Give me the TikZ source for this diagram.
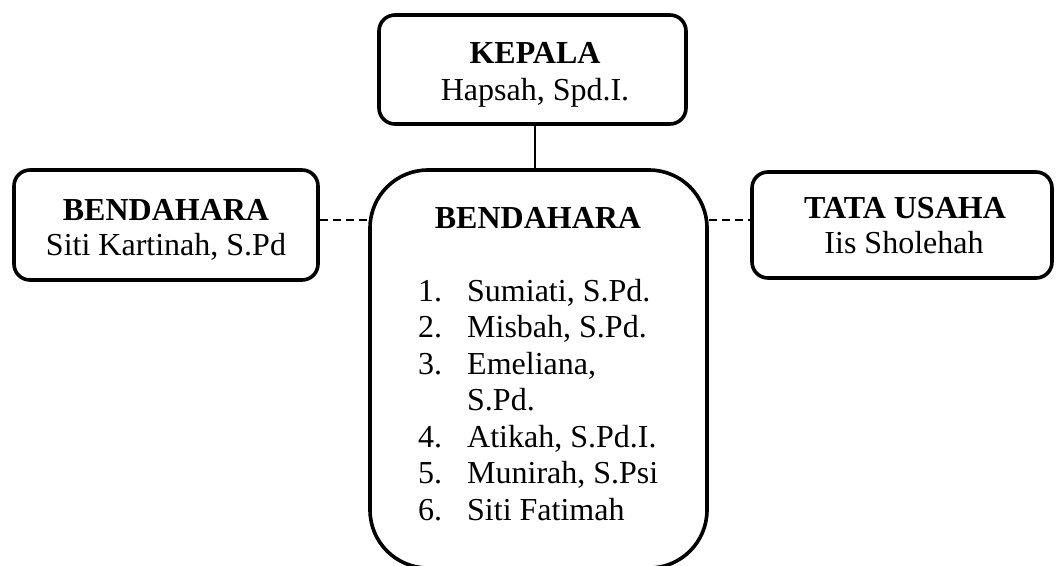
\documentclass[tikz,border=0pt]{standalone}
\usepackage{fontspec}
\setmainfont{Liberation Serif}
\begin{document}
\begin{tikzpicture}[x=1pt,y=-1pt,
  box/.style={draw,line width=3.6pt,rectangle,inner sep=0pt,rounded corners=16pt},
  bigbox/.style={draw,line width=3.6pt,rectangle,inner sep=0pt,rounded corners=58pt},
  txt/.style={font=\fontsize{32}{38}\selectfont,inner sep=0pt,anchor=base},
  btxt/.style={txt,font=\fontsize{32}{38}\selectfont\bfseries},
  ltxt/.style={txt,anchor=base west},
  solidcon/.style={line width=1.5pt},
  dashcon/.style={line width=1.5pt,dash pattern=on 8pt off 5pt}]
\useasboundingbox (0,0) rectangle (1057,565);
\clip (0,0) rectangle (1057,565);
% boxes
\node[box,minimum width=307pt,minimum height=109pt] (top) at (532.5,69.5) {};
\node[box,minimum width=304pt,minimum height=110pt] (left) at (166,225) {};
\node[box,minimum width=300pt,minimum height=106pt] (right) at (902,225) {};
\node[bigbox,minimum width=337pt,minimum height=398pt] (mid) at (538.5,369) {};
% texts
\node[btxt] (t1) at (535,63) {KEPALA};
\node[txt] (t2) at (535,100) {Hapsah, Spd.I.};
\node[btxt] (l1) at (166,220) {BENDAHARA};
\node[txt] (l2) at (166,255) {Siti Kartinah, S.Pd};
\node[btxt] (r1) at (905,218) {TATA USAHA};
\node[txt] (r2) at (904,253) {Iis Sholehah};
\node[btxt] (m0) at (538,228) {BENDAHARA};
\node[ltxt] (n1) at (418,301) {1.};
\node[ltxt] (a1) at (467,301) {Sumiati, S.Pd.};
\node[ltxt] (n2) at (418,337.5) {2.};
\node[ltxt] (a2) at (467,337.5) {Misbah, S.Pd.};
\node[ltxt] (n3) at (418,374) {3.};
\node[ltxt] (a3) at (467,374) {Emeliana,};
\node[ltxt] (a3b) at (467,410.5) {S.Pd.};
\node[ltxt] (n4) at (418,447) {4.};
\node[ltxt] (a4) at (467,447) {Atikah, S.Pd.I.};
\node[ltxt] (n5) at (418,483.5) {5.};
\node[ltxt] (a5) at (467,483.5) {Munirah, S.Psi};
\node[ltxt] (n6) at (418,520) {6.};
\node[ltxt] (a6) at (467,520) {Siti Fatimah};
% connectors
\coordinate (vx) at (535,0);
\coordinate (dy) at (0,220);
\draw[solidcon] (top.south -| vx) -- (mid.north -| vx);
\draw[dashcon] (left.east |- dy) -- (mid.west |- dy);
\draw[dashcon] (mid.east |- dy) -- (right.west |- dy);
\end{tikzpicture}
\end{document}
